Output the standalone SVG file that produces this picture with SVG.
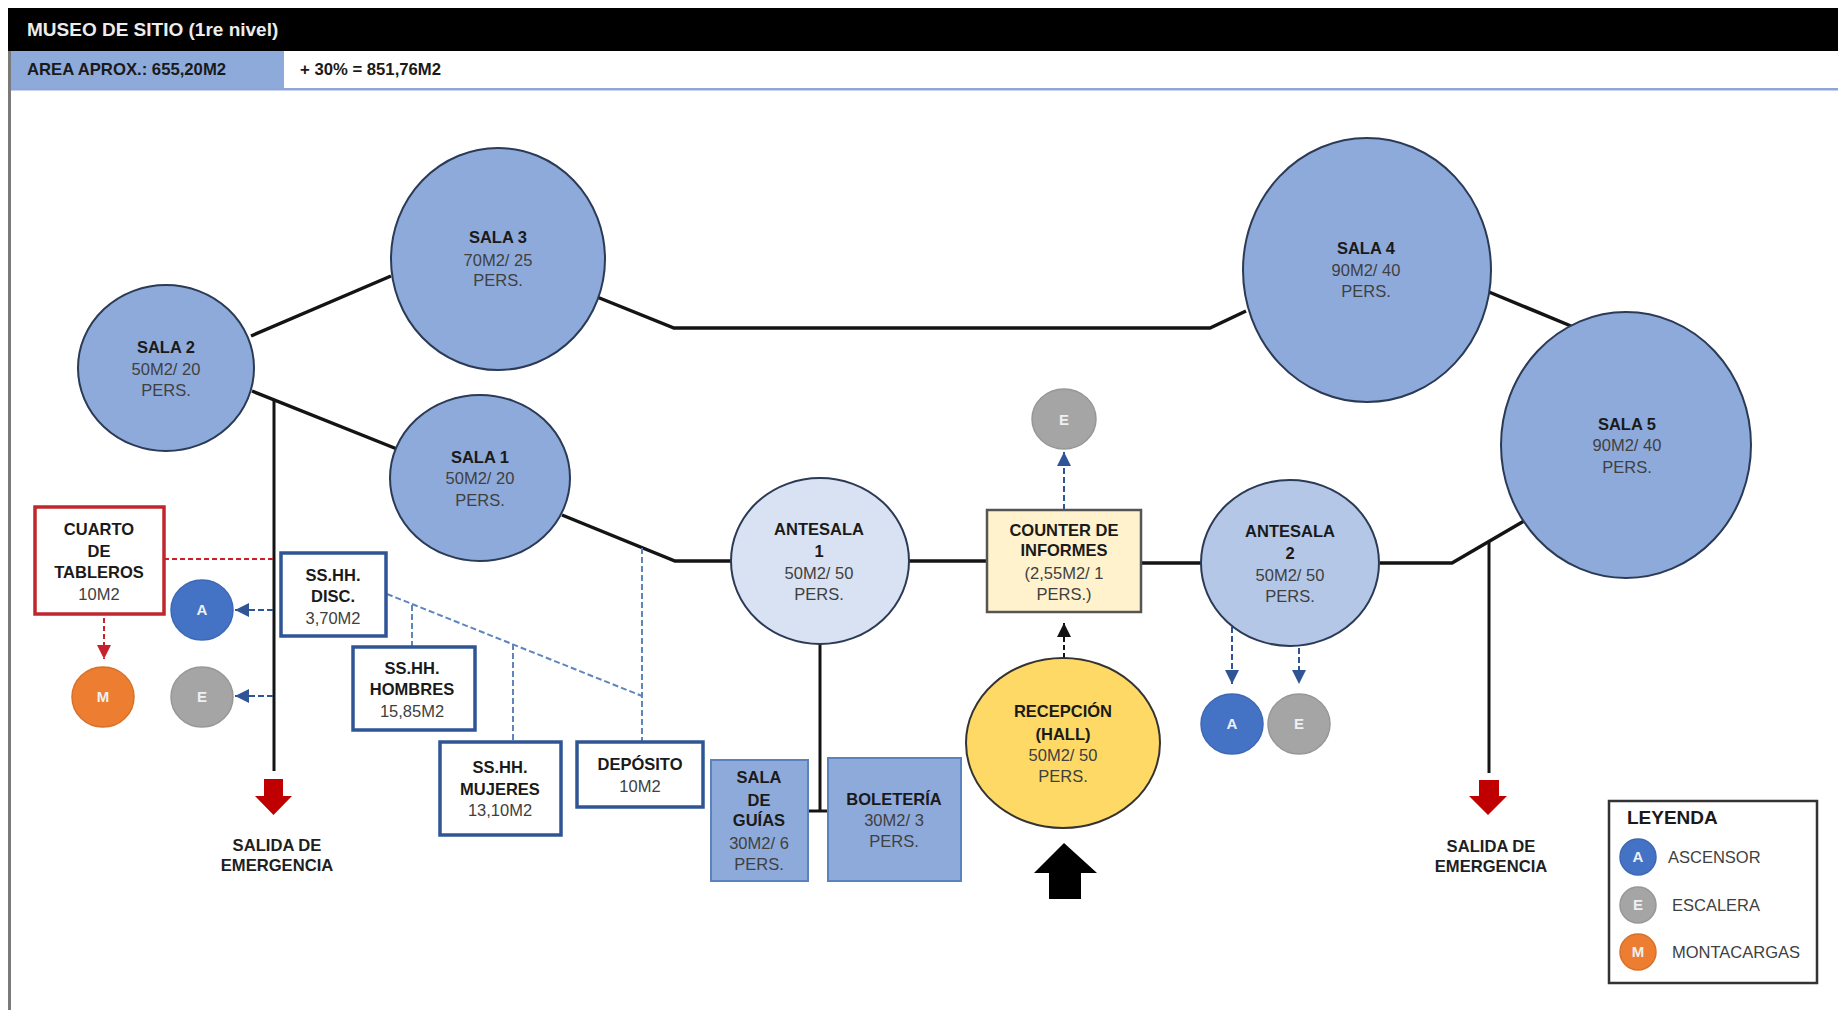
<svg xmlns="http://www.w3.org/2000/svg" width="1838" height="1010" viewBox="0 0 1838 1010">
<defs>
<style>
text{font-family:"Liberation Sans",Arial,sans-serif;font-size:16.5px;fill:#404040;text-anchor:middle}
.b{font-weight:bold;fill:#1a1a1a}
.w{font-weight:bold;fill:#eef0f4;font-size:15px}
.s{font-weight:bold;fill:#1f1f1f;font-size:16.6px}
.l{text-anchor:start}
.c{stroke:#2b3a55;stroke-width:2}
.sala{fill:#8EAADB}
.box{fill:#fff;stroke:#2F5597;stroke-width:3.5}
.fill{fill:#8EAADB;stroke:#5b82bd;stroke-width:2}
.a{fill:#4472C4;stroke:#3d68b5;stroke-width:1.5}
.e{fill:#A5A5A5;stroke:#979797;stroke-width:1.5}
.m{fill:#ED7D31;stroke:#d87129;stroke-width:1.5}
.k{fill:none;stroke:#141414;stroke-width:3.5;stroke-linejoin:miter}
.k2{fill:none;stroke:#141414;stroke-width:3}
.bd{fill:none;stroke:#2F5597;stroke-width:2;stroke-dasharray:6 3}
.ld{fill:none;stroke:#5f86ba;stroke-width:2;stroke-dasharray:6 3}
.rd{fill:none;stroke:#C8202C;stroke-width:2;stroke-dasharray:5 3}
.kd{fill:none;stroke:#141414;stroke-width:2;stroke-dasharray:5 3}
</style>
<marker id="mb" markerUnits="userSpaceOnUse" markerWidth="16" markerHeight="16" refX="14" refY="8" orient="auto"><path d="M0 1L14 8L0 15Z" fill="#2F5597"/></marker>
<marker id="mr" markerUnits="userSpaceOnUse" markerWidth="16" markerHeight="16" refX="14" refY="8" orient="auto"><path d="M0 1L14 8L0 15Z" fill="#C8202C"/></marker>
<marker id="mk" markerUnits="userSpaceOnUse" markerWidth="16" markerHeight="16" refX="14" refY="8" orient="auto"><path d="M0 1L14 8L0 15Z" fill="#141414"/></marker>
</defs>
<rect width="1838" height="1010" fill="#fff"/>
<g id="cabecera">
<rect x="8" y="8" width="1830" height="43" fill="#000"/>
<rect x="8" y="51" width="276" height="39" fill="#8EAADB"/>
<rect x="8" y="88" width="1830" height="2.500" fill="#8EA4DB"/>
<rect x="8" y="51" width="3" height="959" fill="#7a7a7a"/>
<text class="l" x="27" y="36" style="fill:#ececec;font-weight:bold;font-size:19px">MUSEO DE SITIO (1re nivel)</text>
<text class="l b" x="27" y="75" style="font-size:16.700px">AREA APROX.: 655,20M2</text>
<text class="l b" x="300" y="75" style="font-size:16.700px">+ 30% = 851,76M2</text>
</g>
<g id="conectores">
<path class="k" d="M251 336L391 276"/>
<path class="k" d="M252 391L397 449"/>
<path class="k" d="M562 515L675 561H731"/>
<path class="k" d="M597 297L674 328H1210L1246 311"/>
<path class="k" d="M1489 292L1571 326"/>
<path class="k" d="M909 561H987"/>
<path class="k" d="M1141 563H1201"/>
<path class="k" d="M1380 563H1452L1524 521"/>
<path class="k2" d="M820 644V811"/>
<path class="k2" d="M808 811H828"/>
<path class="k2" d="M274 401V771"/>
<path class="k2" d="M1489 542V773"/>
<path class="rd" d="M164 559H273"/>
<path class="rd" d="M104 618V659" marker-end="url(#mr)"/>
<path class="bd" d="M273 610H235" marker-end="url(#mb)"/>
<path class="bd" d="M273 696H235" marker-end="url(#mb)"/>
<path class="ld" d="M387 594L642 696"/>
<path class="ld" d="M642 548V741"/>
<path class="ld" d="M412 605V646"/>
<path class="ld" d="M513 644V741"/>
<path class="bd" d="M1064 510V452" marker-end="url(#mb)"/>
<path class="kd" d="M1064 658V623" marker-end="url(#mk)"/>
<path class="bd" d="M1232 627V684" marker-end="url(#mb)"/>
<path class="bd" d="M1299 648V684" marker-end="url(#mb)"/>
</g>
<g id="sala3"><ellipse class="c sala" cx="498" cy="259" rx="107" ry="111"/><text class="b" x="498" y="243">SALA 3</text><text x="498" y="266">70M2/ 25</text><text x="498" y="286">PERS.</text></g>
<g id="sala2"><ellipse class="c sala" cx="166" cy="368" rx="88" ry="83"/><text class="b" x="166" y="353">SALA 2</text><text x="166" y="375">50M2/ 20</text><text x="166" y="396">PERS.</text></g>
<g id="sala1"><ellipse class="c sala" cx="480" cy="478" rx="90" ry="83"/><text class="b" x="480" y="463">SALA 1</text><text x="480" y="484">50M2/ 20</text><text x="480" y="506">PERS.</text></g>
<g id="sala4"><ellipse class="c sala" cx="1367" cy="270" rx="124" ry="132"/><text class="b" x="1366" y="254">SALA 4</text><text x="1366" y="276">90M2/ 40</text><text x="1366" y="297">PERS.</text></g>
<g id="sala5"><ellipse class="c sala" cx="1626" cy="445" rx="125" ry="133"/><text class="b" x="1627" y="430">SALA 5</text><text x="1627" y="451">90M2/ 40</text><text x="1627" y="473">PERS.</text></g>
<g id="antesala1"><ellipse class="c" fill="#D9E2F3" cx="820" cy="561" rx="89" ry="83"/><text class="b" x="819" y="535">ANTESALA</text><text class="b" x="819" y="557">1</text><text x="819" y="579">50M2/ 50</text><text x="819" y="600">PERS.</text></g>
<g id="antesala2"><ellipse class="c" fill="#B4C7E7" cx="1290" cy="563" rx="89" ry="83"/><text class="b" x="1290" y="537">ANTESALA</text><text class="b" x="1290" y="559">2</text><text x="1290" y="581">50M2/ 50</text><text x="1290" y="602">PERS.</text></g>
<g id="counter"><rect x="987" y="510" width="154" height="102" fill="#FFF2CC" stroke="#555" stroke-width="2.500"/><text class="b" x="1064" y="536">COUNTER DE</text><text class="b" x="1064" y="556">INFORMES</text><text x="1064" y="579">(2,55M2/ 1</text><text x="1064" y="600">PERS.)</text></g>
<g id="recepcion"><ellipse cx="1063" cy="743" rx="97" ry="85" fill="#FFD966" stroke="#333" stroke-width="2"/><text class="b" x="1063" y="717">RECEPCIÓN</text><text class="b" x="1063" y="740">(HALL)</text><text x="1063" y="761">50M2/ 50</text><text x="1063" y="782">PERS.</text></g>
<g id="guias"><rect class="fill" x="711" y="760" width="97" height="121"/><text class="b" x="759" y="783">SALA</text><text class="b" x="759" y="806">DE</text><text class="b" x="759" y="826">GUÍAS</text><text x="759" y="849">30M2/ 6</text><text x="759" y="870">PERS.</text></g>
<g id="boleteria"><rect class="fill" x="828" y="758" width="133" height="123"/><text class="b" x="894" y="805">BOLETERÍA</text><text x="894" y="826">30M2/ 3</text><text x="894" y="847">PERS.</text></g>
<g id="cuarto"><rect x="35" y="507" width="129" height="107" fill="#fff" stroke="#C0272D" stroke-width="3.500"/><text class="b" x="99" y="535">CUARTO</text><text class="b" x="99" y="557">DE</text><text class="b" x="99" y="578">TABLEROS</text><text x="99" y="600">10M2</text></g>
<g id="disc"><rect class="box" x="281" y="553" width="105" height="83"/><text class="b" x="333" y="581">SS.HH.</text><text class="b" x="333" y="602">DISC.</text><text x="333" y="624">3,70M2</text></g>
<g id="hombres"><rect class="box" x="353" y="647" width="122" height="83"/><text class="b" x="412" y="674">SS.HH.</text><text class="b" x="412" y="695">HOMBRES</text><text x="412" y="717">15,85M2</text></g>
<g id="mujeres"><rect class="box" x="440" y="742" width="121" height="93"/><text class="b" x="500" y="773">SS.HH.</text><text class="b" x="500" y="795">MUJERES</text><text x="500" y="816">13,10M2</text></g>
<g id="deposito"><rect class="box" x="577" y="742" width="126" height="65"/><text class="b" x="640" y="770">DEPÓSITO</text><text x="640" y="792">10M2</text></g>
<g id="a-izq"><ellipse class="a" cx="202" cy="610" rx="31" ry="30"/><text class="w" x="202" y="615">A</text></g>
<g id="e-izq"><ellipse class="e" cx="202" cy="697" rx="31" ry="30"/><text class="w" x="202" y="702">E</text></g>
<g id="m-izq"><ellipse class="m" cx="103" cy="697" rx="31" ry="30"/><text class="w" x="103" y="702">M</text></g>
<g id="e-sup"><ellipse class="e" cx="1064" cy="419" rx="32" ry="30"/><text class="w" x="1064" y="425">E</text></g>
<g id="a-der"><ellipse class="a" cx="1232" cy="724" rx="31" ry="30"/><text class="w" x="1232" y="729">A</text></g>
<g id="e-der"><ellipse class="e" cx="1299" cy="724" rx="31" ry="30"/><text class="w" x="1299" y="729">E</text></g>
<g id="salida-izq"><polygon points="264,779 283,779 283,796 292,796 273.500,815 255,796 264,796" fill="#C00000"/><text class="s" x="277" y="851">SALIDA DE</text><text class="s" x="277" y="871">EMERGENCIA</text></g>
<g id="salida-der"><polygon points="1479,780 1499,780 1499,796 1507,796 1488,815 1469,796 1479,796" fill="#C00000"/><text class="s" x="1491" y="852">SALIDA DE</text><text class="s" x="1491" y="872">EMERGENCIA</text></g>
<g id="entrada"><polygon points="1064,843 1097,873 1081,873 1081,899 1049,899 1049,873 1034,873" fill="#000"/></g>
<g id="leyenda"><rect x="1609" y="801" width="208" height="182" fill="#fff" stroke="#333" stroke-width="2.500"/><text class="l" x="1627" y="824" style="font-weight:bold;font-size:19px;fill:#1a1a1a">LEYENDA</text>
<circle class="a" cx="1638" cy="857" r="18"/><text class="w" x="1638" y="862">A</text><text class="l" x="1668" y="863">ASCENSOR</text>
<circle class="e" cx="1638" cy="905" r="18"/><text class="w" x="1638" y="910">E</text><text class="l" x="1672" y="911">ESCALERA</text>
<circle class="m" cx="1638" cy="952" r="18"/><text class="w" x="1638" y="957">M</text><text class="l" x="1672" y="958">MONTACARGAS</text></g>
</svg>
